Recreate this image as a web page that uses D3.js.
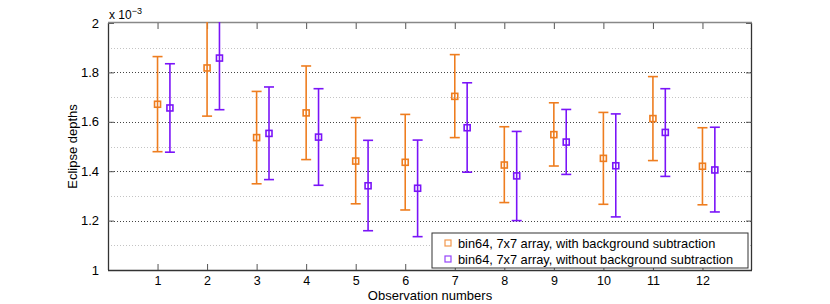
<!DOCTYPE html>
<html><head><meta charset="utf-8">
<script src="https://cdn.jsdelivr.net/npm/d3@7"></script>
<style>body{margin:0;background:#fff}svg{display:block}text{font-family:"Liberation Sans",Arial,sans-serif}</style>
</head><body>
<svg id="c" width="830" height="304"></svg>
<script>
const obs = [1,2,3,4,5,6,7,8,9,10,11,12];
const withBgMid = [1.671,1.818,1.536,1.636,1.441,1.436,1.703,1.425,1.548,1.452,1.613,1.420];
const withBgLo  = [1.479,1.623,1.349,1.447,1.268,1.243,1.536,1.273,1.421,1.266,1.443,1.264];
const withBgHi  = [1.864,2.010,1.723,1.826,1.617,1.630,1.872,1.580,1.677,1.638,1.783,1.576];
const noBgMid = [1.656,1.858,1.553,1.538,1.341,1.331,1.576,1.381,1.518,1.422,1.557,1.405];
const noBgLo  = [1.477,1.649,1.366,1.343,1.159,1.135,1.396,1.200,1.387,1.215,1.379,1.235];
const noBgHi  = [1.835,2.070,1.741,1.734,1.525,1.526,1.758,1.561,1.650,1.632,1.734,1.578];
const yTicks = [1,1.2,1.4,1.6,1.8,2];
const yMinor = [1.1,1.3,1.5,1.7,1.9];
const yTickLabels = ["1","1.2","1.4","1.6","1.8","2"];
const seriesNames = ["bin64, 7x7 array, with background subtraction","bin64, 7x7 array, without background subtraction"];
const colors = ["#EE7D1F","#7A14F8"];

const svg = d3.select("#c");
const L=108,R=752,T=23,B=270;
const x = d3.scaleLinear().domain([0,13]).range([L,R]);
const y = d3.scaleLinear().domain([1,2]).range([B,T]);

// grid
const g = svg.append("g");
g.selectAll("line.minor").data(yMinor).join("line")
 .attr("x1",L).attr("x2",R).attr("y1",d=>Math.round(y(d))+0.5).attr("y2",d=>Math.round(y(d))+0.5)
 .attr("stroke","#c4c4c4").attr("stroke-width",1).attr("stroke-dasharray","1,2");
g.selectAll("line.major").data(yTicks.slice(1,-1)).join("line")
 .attr("x1",L).attr("x2",R).attr("y1",d=>Math.round(y(d))+0.5).attr("y2",d=>Math.round(y(d))+0.5)
 .attr("stroke","#444").attr("stroke-width",1).attr("stroke-dasharray","1,2");

// axes
const fmt = (d,i)=>yTickLabels[i];
const yAxis = d3.axisLeft(y).tickValues(yTicks).tickSize(-6).tickPadding(9).tickFormat(fmt);
const ya = svg.append("g").attr("transform",`translate(${L},0)`).call(yAxis);
const yr = svg.append("g").attr("transform",`translate(${R},0)`).call(d3.axisRight(y).tickValues(yTicks).tickSize(-6).tickFormat(""));
const xAxis = d3.axisBottom(x).tickValues(obs).tickSize(-6).tickPadding(6).tickFormat(d3.format("d"));
const xa = svg.append("g").attr("transform",`translate(0,${B})`).call(xAxis);
const xt = svg.append("g").attr("transform",`translate(0,${T})`).call(d3.axisTop(x).tickValues(obs).tickSize(-6).tickFormat(""));
[ya,yr,xa,xt].forEach(a=>{
  a.select(".domain").attr("stroke","#333").attr("stroke-width",1.3);
  a.selectAll(".tick line").attr("stroke","#555");
  a.selectAll("text").attr("font-size",13).attr("fill","#000");
});
xa.selectAll("text").attr("font-size",12.5);
ya.select(".domain").attr("d",`M0.5,${B}V${T}`);
yr.select(".domain").attr("d",`M-0.5,${B}V${T}`);
xa.select(".domain").attr("d",`M${L},0.5H${R}`);
xt.select(".domain").attr("d",`M${L},-0.5H${R}`).attr("stroke","#888");

// clip
svg.append("clipPath").attr("id","clip").append("rect").attr("x",L).attr("y",T-1).attr("width",R-L).attr("height",B-T+1);
const plot = svg.append("g").attr("clip-path","url(#clip)");

const series = [
  {mid:withBgMid,lo:withBgLo,hi:withBgHi,off:0,color:colors[0]},
  {mid:noBgMid,lo:noBgLo,hi:noBgHi,off:0.25,color:colors[1]}
];
const cap=5, sq=5;
series.forEach(s=>{
  const gg = plot.append("g").attr("stroke",s.color).attr("fill","none").attr("stroke-width",1.6);
  obs.forEach((o,i)=>{
    const cx = x(o+s.off);
    gg.append("line").attr("x1",cx).attr("x2",cx).attr("y1",y(s.lo[i])).attr("y2",y(s.hi[i]));
    gg.append("line").attr("x1",cx-cap).attr("x2",cx+cap).attr("y1",y(s.lo[i])).attr("y2",y(s.lo[i]));
    gg.append("line").attr("x1",cx-cap).attr("x2",cx+cap).attr("y1",y(s.hi[i])).attr("y2",y(s.hi[i]));
    gg.append("rect").attr("x",cx-sq/2-0.5).attr("y",y(s.mid[i])-sq/2-0.5).attr("width",sq+1).attr("height",sq+1);
  });
});

// legend
const lg = svg.append("g").attr("transform","translate(432,233)");
lg.append("rect").attr("x",0).attr("y",0).attr("width",316).attr("height",35).attr("fill","#fff").attr("stroke","#333").attr("stroke-width",1);
seriesNames.forEach((n,i)=>{
  const yy = 10+i*16;
  lg.append("rect").attr("x",13).attr("y",yy-3).attr("width",6).attr("height",6).attr("fill","none").attr("stroke",colors[i]).attr("stroke-width",1.2).attr("opacity",0.8);
  lg.append("text").attr("x",26).attr("y",yy+4.5).attr("font-size",12.8).text(n);
});

// labels
svg.append("text").attr("x",(L+R)/2).attr("y",300).attr("text-anchor","middle").attr("font-size",13).text("Observation numbers");
svg.append("text").attr("transform",`translate(77,${(T+B)/2}) rotate(-90)`).attr("text-anchor","middle").attr("font-size",13).text("Eclipse depths");
const ex = svg.append("text").attr("x",109).attr("y",19).attr("font-size",12);
ex.append("tspan").text("x 10");
ex.append("tspan").attr("font-size",9).attr("dy",-5).text("−3");
</script>
</body></html>
